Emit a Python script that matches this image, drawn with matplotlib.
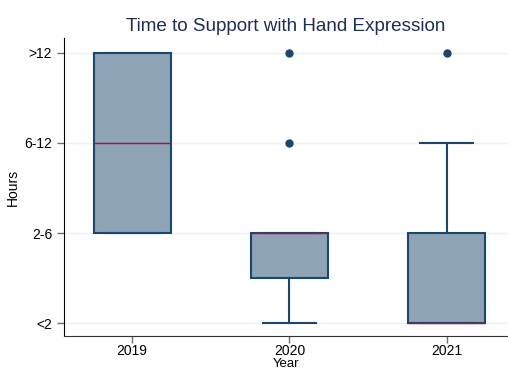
import matplotlib.pyplot as plt

plt.rcParams['font.family'] = ['Liberation Sans', 'DejaVu Sans']

# Box summaries per year (hours coded 1=<2, 2=2-6, 3=6-12, 4=>12)
years = ['2019', '2020', '2021']
q1 = [2, 1.5, 1]
med = [3, 2, 1]
q3 = [4, 2, 2]
whislo = [2, 1, 1]
whishi = [4, 2, 3]
fliers = [[], [3, 4], [4]]
hour_labels = ['<2', '2-6', '6-12', '>12']
hour_levels = [1, 2, 3, 4]

navy = '#1a476f'
fill = '#8ea3b6'

stats = []
for i in range(len(years)):
    stats.append(dict(q1=q1[i], med=med[i], q3=q3[i], whislo=whislo[i],
                      whishi=whishi[i], fliers=fliers[i], label=years[i]))

fig = plt.figure(figsize=(5.08, 3.71), dpi=100)
ax = fig.add_axes([0.126, 0.094, 0.874, 0.803])

for y in hour_levels:
    ax.axhline(y, color='#eaf2f3', lw=1, zorder=0)

ax.bxp(stats, positions=[1, 2, 3], widths=0.49, patch_artist=True,
       capwidths=0.34,
       boxprops=dict(facecolor=fill, edgecolor=navy, linewidth=1.5),
       medianprops=dict(color='#c10534', linewidth=1, zorder=4),
       whiskerprops=dict(color=navy, linewidth=1.5),
       capprops=dict(color=navy, linewidth=1.5),
       flierprops=dict(marker='o', markerfacecolor=navy, markeredgecolor=navy,
                       markersize=5))

ax.set_xlim(0.567, 3.39)
ax.set_ylim(0.857, 4.16)
ax.set_yticks(hour_levels)
ax.set_yticklabels(hour_labels)
ax.set_xticks([1, 2, 3])
ax.set_xticklabels(years)
ax.tick_params(axis='both', colors='#6e6e6e', labelcolor='black', labelsize=10,
               length=5, width=1)
ax.tick_params(axis='x', pad=1)
ax.spines['top'].set_visible(False)
ax.spines['right'].set_visible(False)
ax.spines['left'].set_color('black')
ax.spines['bottom'].set_color('#333333')

ax.set_xlabel('Year', fontsize=9.5, labelpad=0)
ax.set_ylabel('Hours', fontsize=10, labelpad=3)
ax.set_title('Time to Support with Hand Expression', fontsize=13.6,
             color='#1e2d53', pad=5)

fig.savefig('out.png', dpi=100)
